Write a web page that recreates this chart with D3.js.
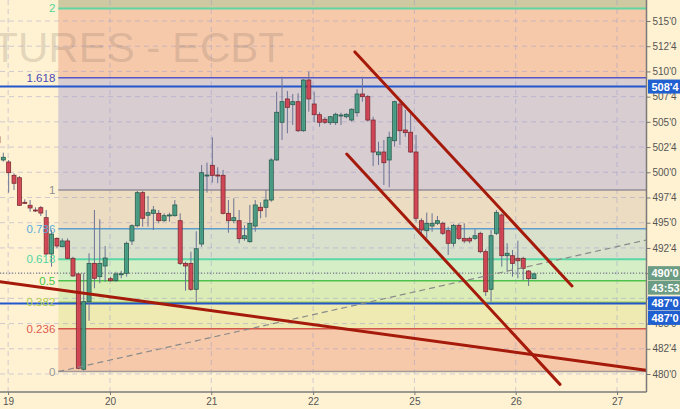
<!DOCTYPE html>
<html><head><meta charset="utf-8">
<script src="https://cdn.jsdelivr.net/npm/d3@7"></script>
<style>html,body{margin:0;padding:0;background:#fff2d2;} svg{display:block;font-family:"Liberation Sans",Arial,sans-serif;}</style>
</head><body><svg id="c" width="680" height="409"></svg>
<script>
// ---- DATA ----
const firstBarIndex = -1;
const barOpen  = [503.53,501.22,501.02,499.70,499.46,497.02,496.73,496.26,496.49,495.50,491.90,493.45,492.62,493.19,491.47,489.92,480.47,487.17,490.97,489.65,490.71,489.45,489.25,489.88,489.98,493.19,494.70,497.98,495.74,495.93,495.93,495.20,495.70,495.70,495.20,490.97,490.97,488.40,492.89,499.67,500.69,499.73,499.70,495.93,495.20,495.20,493.42,493.12,494.67,496.53,496.53,497.25,501.22,504.96,507.27,506.70,507.00,504.12,509.15,506.77,505.71,505.25,504.92,504.92,505.61,505.51,505.18,505.91,507.76,507.50,505.18,501.74,502.01,501.22,503.13,506.77,504.19,503.97,502.01,495.20,494.21,494.67,494.94,494.94,494.21,492.96,494.74,493.45,493.45,493.45,493.95,492.13,488.40,493.95,495.77,491.73,491.73,491.47,491.47,490.21,489.45];
const barHigh  = [504.09,501.94,501.22,499.90,499.63,497.32,497.25,496.53,496.66,496.26,494.28,493.55,493.45,493.45,491.63,490.05,489.98,491.97,496.26,495.34,492.69,489.65,490.14,490.24,493.12,494.84,498.15,498.15,497.65,496.66,496.26,495.93,496.00,497.25,495.93,491.13,492.13,494.15,500.72,500.95,503.47,500.49,500.23,497.25,497.42,496.26,494.74,496.76,497.25,497.02,498.24,501.39,507.99,509.48,508.06,507.76,507.83,509.22,509.97,507.99,505.95,505.48,505.58,505.91,505.91,505.85,506.34,508.23,509.48,507.66,505.51,503.03,503.20,504.02,507.10,507.00,506.18,505.85,503.70,495.44,496.00,495.93,495.66,495.10,494.61,494.87,494.94,494.94,493.61,494.35,494.11,492.37,494.28,496.26,495.93,492.96,492.30,493.22,491.63,490.31,490.02];
const barLow   = [502.61,501.05,497.98,498.24,496.66,496.86,496.09,496.06,495.67,491.80,490.64,492.46,492.56,491.37,489.65,480.47,480.33,485.28,488.50,489.00,489.15,489.15,489.15,489.49,489.65,492.79,494.55,494.61,494.61,494.28,494.94,495.10,495.10,495.60,490.81,488.26,488.26,487.07,492.62,497.98,498.97,498.91,495.83,494.01,494.94,492.96,493.22,493.02,494.11,495.44,495.54,497.08,501.15,503.20,503.87,504.69,503.99,504.02,506.01,504.96,504.52,504.79,504.69,504.69,504.69,505.35,505.02,505.51,507.00,505.02,500.61,500.72,498.74,498.51,502.54,502.71,503.53,501.94,495.10,493.95,493.45,494.11,494.77,493.78,491.80,492.62,493.28,492.96,492.96,493.28,491.97,487.73,487.17,493.78,490.64,490.14,489.65,489.49,489.32,488.72,489.42];
const barClose = [502.93,501.49,499.96,498.91,496.73,496.92,496.46,496.23,495.96,491.90,493.88,492.69,493.19,491.47,489.72,480.57,487.17,490.97,489.49,490.97,491.50,489.25,489.92,489.94,492.96,494.70,497.98,495.44,496.00,496.26,495.20,495.70,495.77,496.76,490.97,490.71,488.40,492.42,499.96,499.73,499.70,499.67,495.93,495.20,495.50,493.42,493.71,494.94,496.76,496.19,497.25,501.22,505.95,507.00,506.44,507.00,504.12,509.15,507.27,505.71,504.96,504.96,505.51,505.75,505.68,505.75,506.25,507.76,507.50,505.18,502.01,502.01,500.95,503.47,507.00,504.12,503.93,502.01,495.44,494.28,494.94,494.94,495.20,493.95,492.96,494.74,493.45,493.19,493.19,493.71,492.13,488.16,493.71,496.00,491.73,491.97,490.97,491.23,490.48,489.45,489.92];

const priceTicks = [480,482.5,485,487.5,490,492.5,495,497.5,500,502.5,505,507.5,510,512.5,515];
const coveredTicks = [487.5,490];
const dayLabels = ["19","20","21","22","25","26","27"];
const dayTickBars = [0.9,19.9,38.8,57.8,76.7,95.6,114.5];

const fibLow = 480.25, fibHigh = 498.25, fibStartBar = 10.26;
const fibLevels = [0,0.236,0.382,0.5,0.618,0.786,1,1.618,2,2.618];
const fibLabels = ["0","0.236","0.382","0.5","0.618","0.786","1","1.618","2","2.618"];
const fibLineColors  = ["#a39a9a","#d4584a","#a9c94a","#4cc44c","#5ad6a6","#5e9dcc","#968c98","#5656c4","#62d6a2","#888888"];
const fibLineWidths  = [1.5,1.5,1.5,1.5,2,1.5,1.5,1.5,2,1];
const fibLabelColors = ["#999999","#e05a50","#b4d050","#48c848","#52d4a0","#5caadc","#8f8f8f","#4a4ab8","#55d49a","#888888"];
const fibBandColors  = ["#f6c9aa","#eeeab2","#dcecb6","#d6eec6","#d9e1cd","#ecdcc1","#d8cdd1","#f6c9aa","#cfc9a2"];

const hLines = [508.5, 487.0];
const lastPrice = 490.0;
const trendLines = [
  {x1:-0.62, p1:489.15, x2:119.9, p2:480.38},
  {x1:65.6,  p1:511.93, x2:106.1, p2:488.73},
  {x1:64.07, p1:501.81, x2:103.86, p2:478.97}
];
const fibTrend = {x1:10.26, p1:480.23, x2:120, p2:493.29};
const priceBoxes = [
  {value:508.5, slot:0, text:"508'4", color:"#1f5fd0"},
  {value:490.0, slot:0, text:"490'0", color:"#6d9c84"},
  {value:490.0, slot:1, text:"43:53", color:"#6d9c84"},
  {value:487.0, slot:0, text:"487'0", color:"#1f5fd0"},
  {value:487.0, slot:1, text:"487'0", color:"#1f5fd0"}
];

// ---- CHART ----
const W = 680, H = 409, plotRight = 646.5, plotBottom = 392;
const svg = d3.select("#c");
const x = d3.scaleLinear().domain([0,120]).range([3.3, plotRight]);
const y = d3.scaleLinear().domain([480,515]).range([374, 21]);
const fibPrice = l => fibLow + l*(fibHigh-fibLow);

svg.append("rect").attr("width",W).attr("height",H).attr("fill","#fff2d2");
svg.append("clipPath").attr("id","clip").append("rect").attr("x",0).attr("y",0).attr("width",plotRight).attr("height",plotBottom);
const g = svg.append("g").attr("clip-path","url(#clip)");

// fib bands
const fx0 = x(fibStartBar);
fibBandColors.forEach((c,i)=>{
  const yTop = y(fibPrice(fibLevels[i+1])), yBot = y(fibPrice(fibLevels[i]));
  g.append("rect").attr("x",fx0).attr("y",yTop).attr("width",plotRight-fx0).attr("height",yBot-yTop).attr("fill",c);
});

// grid
g.selectAll(".hg").data(priceTicks).enter().append("line")
  .attr("x1",0).attr("x2",plotRight).attr("y1",d=>y(d)).attr("y2",d=>y(d))
  .attr("stroke","rgba(150,150,205,0.45)").attr("stroke-width",1).attr("stroke-dasharray","5,4");
g.selectAll(".vg").data(dayTickBars).enter().append("line")
  .attr("x1",d=>x(d)).attr("x2",d=>x(d)).attr("y1",0).attr("y2",plotBottom)
  .attr("stroke","rgba(150,150,205,0.45)").attr("stroke-width",1).attr("stroke-dasharray","5,4");

// watermark
g.append("text").attr("x",284).attr("y",62).attr("text-anchor","end")
  .attr("font-size",42).attr("fill","rgba(110,95,90,0.2)").text("FUTURES - ECBT");

// fib lines
fibLevels.forEach((l,i)=>{
  g.append("line").attr("x1",fx0).attr("x2",plotRight).attr("y1",y(fibPrice(l))).attr("y2",y(fibPrice(l)))
   .attr("stroke",fibLineColors[i]).attr("stroke-width",fibLineWidths[i]);
});
// fib labels (only levels inside the plot)
fibLevels.forEach((l,i)=>{
  const ly = y(fibPrice(l));
  if (ly < 0) return;
  svg.append("text").attr("x",fx0-3).attr("y",ly).attr("dy","0.35em")
   .attr("text-anchor","end").attr("font-size",11.5).attr("fill",fibLabelColors[i]).text(fibLabels[i]);
});

// horizontal lines
g.selectAll(".hl").data(hLines).enter().append("line")
  .attr("x1",0).attr("x2",plotRight).attr("y1",d=>y(d)).attr("y2",d=>y(d))
  .attr("stroke","#2256cc").attr("stroke-width",2);
g.append("line").attr("x1",0).attr("x2",plotRight).attr("y1",y(lastPrice)).attr("y2",y(lastPrice))
  .attr("stroke","#6a6a6a").attr("stroke-width",1).attr("stroke-dasharray","1,2");

// candles
const bars = barOpen.map((o,k)=>({i:firstBarIndex+k,o,h:barHigh[k],l:barLow[k],c:barClose[k]}));
const cg = g.append("g");
cg.selectAll(".wick").data(bars).enter().append("line")
  .attr("x1",d=>x(d.i)).attr("x2",d=>x(d.i)).attr("y1",d=>y(d.h)).attr("y2",d=>y(d.l))
  .attr("stroke","#6c7294").attr("stroke-width",1);
cg.selectAll(".body").data(bars).enter().append("rect")
  .attr("x",d=>x(d.i)-2).attr("width",4)
  .attr("y",d=>y(Math.max(d.o,d.c)))
  .attr("height",d=>Math.max(1,Math.abs(y(d.o)-y(d.c))))
  .attr("fill",d=>d.c>=d.o?"#3f9a7f":"#d63c4c")
  .attr("fill-opacity",0.9)
  .attr("stroke",d=>d.c>=d.o?"#2b5c4e":"#7a2a30").attr("stroke-width",0.8);

// dashed fib trend
g.append("line").attr("x1",x(fibTrend.x1)).attr("y1",y(fibTrend.p1)).attr("x2",x(fibTrend.x2)).attr("y2",y(fibTrend.p2))
  .attr("stroke","#8a8a8a").attr("stroke-width",1.2).attr("stroke-dasharray","6,4");

// trend lines
g.selectAll(".tl").data(trendLines).enter().append("line")
  .attr("x1",d=>x(d.x1)).attr("y1",d=>y(d.p1)).attr("x2",d=>x(d.x2)).attr("y2",d=>y(d.p2))
  .attr("stroke","#a51a0a").attr("stroke-width",3).attr("stroke-linecap","round");

// axes
const fmt = d => { const f = Math.floor(d); return f + "'" + Math.round((d-f)*8); };
const ay = svg.append("g").attr("transform",`translate(${plotRight},0)`)
  .call(d3.axisRight(y).tickValues(priceTicks).tickFormat(d => coveredTicks.includes(d) ? "" : fmt(d)).tickSize(4).tickSizeOuter(0));
ay.select(".domain").attr("d",`M0,0V${plotBottom}`).attr("stroke","#7a7a7a").attr("stroke-width",1.5);
ay.selectAll(".tick line").attr("stroke","#777");
ay.selectAll(".tick text").attr("fill","#555").attr("font-size",10).attr("x",6).attr("font-family","Liberation Sans, Arial, sans-serif");

const ax = svg.append("g").attr("transform",`translate(0,${plotBottom})`)
  .call(d3.axisBottom(x).tickValues(dayTickBars).tickFormat((d,i)=>dayLabels[i]).tickSize(3).tickSizeOuter(0));
ax.select(".domain").attr("d",`M0,0H${plotRight}`).attr("stroke","#7a7a7a").attr("stroke-width",1.5);
ax.selectAll(".tick line").attr("stroke","#777");
ax.selectAll(".tick text").attr("fill","#555").attr("font-size",10).attr("y",6).attr("font-family","Liberation Sans, Arial, sans-serif");

// price boxes
const bx = svg.append("g");
priceBoxes.forEach(b=>{
  const cy = y(b.value) + b.slot*14.5;
  bx.append("rect").attr("x",plotRight+1.5).attr("y",cy-7).attr("width",W-plotRight).attr("height",14).attr("fill",b.color);
  bx.append("text").attr("x",plotRight+5).attr("y",cy).attr("dy","0.36em").attr("font-size",11).attr("font-weight","bold")
    .attr("fill","#fff").text(b.text);
});
</script></body></html>
